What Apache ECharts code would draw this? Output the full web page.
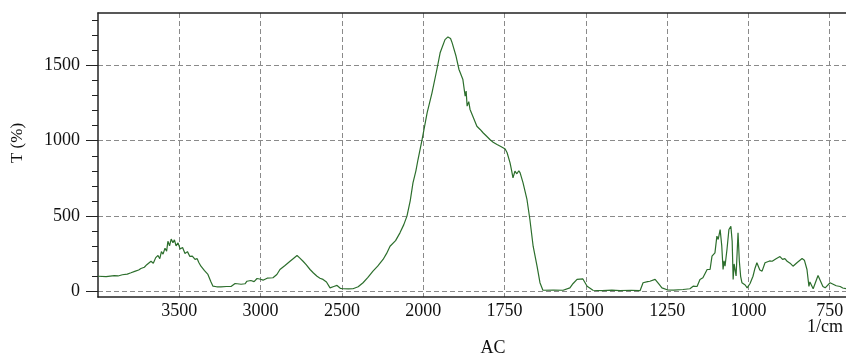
<!DOCTYPE html>
<html>
<head>
<meta charset="utf-8">
<script src="https://cdn.jsdelivr.net/npm/echarts@6/dist/echarts.min.js"></script>
<style>
  html, body { margin: 0; padding: 0; background: #fff; }
  #chart { width: 846px; height: 356px; }
</style>
</head>
<body>
<div id="chart"></div>
<script>
// wavenumber (1/cm) and transmittance
const waveNumbers = [
  4000, 3950, 3900, 3877, 3850, 3820, 3797, 3770, 3750, 3736, 3715, 3700, 3690, 3674, 3660, 3645,
  3631, 3620, 3610, 3600, 3588, 3578, 3570, 3560, 3550, 3539, 3530, 3520, 3508, 3495, 3480, 3465,
  3450, 3435, 3420, 3403, 3390, 3380, 3367, 3345, 3324, 3305, 3293, 3270, 3244, 3210, 3182, 3157,
  3145, 3120, 3096, 3084, 3060, 3040, 3022, 3000, 2985, 2960, 2924, 2900, 2881, 2850, 2819, 2800,
  2776, 2760, 2739, 2720, 2696, 2675, 2653, 2635, 2616, 2595, 2573, 2550, 2530, 2510, 2493, 2460,
  2432, 2400, 2370, 2340, 2309, 2280, 2247, 2225, 2204, 2170, 2143, 2120, 2100, 2080, 2063, 2045,
  2032, 2007, 1988, 1973, 1958, 1948, 1933, 1924, 1916, 1911, 1899, 1890, 1878, 1871, 1868, 1865,
  1860, 1856, 1845, 1835, 1825, 1816, 1805, 1795, 1785, 1773, 1760, 1755, 1748, 1742, 1733, 1728,
  1724, 1718, 1712, 1706, 1702, 1693, 1681, 1672, 1662, 1650, 1641, 1632, 1600, 1570, 1549, 1539,
  1527, 1509, 1496, 1478, 1450, 1420, 1395, 1360, 1333, 1324, 1310, 1303, 1287, 1275, 1266, 1250,
  1230, 1201, 1180, 1170, 1158, 1149, 1140, 1127, 1118, 1112, 1103, 1097, 1093, 1087, 1082, 1078,
  1075, 1072, 1066, 1060, 1054, 1050, 1047, 1044, 1038, 1032, 1028, 1024, 1020, 1010, 1004, 1001,
  995, 986, 980, 974, 965, 958, 949, 943, 935, 927, 915, 903, 895, 888, 881, 872,
  863, 850, 835, 828, 820, 814, 811, 801, 786, 780, 771, 764, 758, 749, 743, 730,
  718, 710, 700
];
const transmittance = [
  98, 96, 102, 100, 108, 112, 121, 132, 140, 150, 158, 175, 165, 198, 185, 222,
  236, 215, 262, 245, 285, 265, 331, 300, 345, 322, 340, 300, 320, 280, 290, 250,
  262, 230, 232, 210, 215, 190, 165, 135, 110, 60, 32, 28, 28, 30, 30, 50,
  55, 45, 48, 65, 70, 62, 83, 78, 72, 85, 88, 110, 143, 170, 198, 215,
  236, 220, 198, 175, 143, 120, 98, 85, 77, 60, 21, 30, 37, 18, 15, 14,
  15, 28, 55, 90, 132, 165, 210, 250, 298, 335, 387, 440, 498, 600, 720, 800,
  875, 1008, 1186, 1319, 1474, 1585, 1673, 1691, 1680, 1651, 1562, 1474, 1407, 1296, 1330, 1230,
  1260, 1208, 1150, 1096, 1075, 1053, 1030, 1008, 990, 975, 960, 953, 945, 920, 853, 800,
  753, 797, 780, 800, 786, 720, 609, 476, 298, 165, 55, 5, 6, 5, 21, 50,
  77, 80, 32, 5, 3, 6, 2, 5, 3, 55, 62, 65, 77, 45, 21, 8,
  6, 10, 15, 32, 30, 77, 88, 143, 143, 232, 254, 365, 343, 409, 300, 143,
  200, 165, 276, 409, 431, 330, 77, 180, 100, 387, 200, 98, 55, 40, 21, 10,
  50, 98, 150, 188, 140, 132, 188, 180, 200, 198, 215, 229, 210, 215, 198, 185,
  165, 190, 216, 205, 143, 30, 60, 15, 103, 98, 30, 21, 15, 55, 55, 35,
  30, 20, 15
];
const xTickLabels = [3500, 3000, 2500, 2000, 1750, 1500, 1250, 1000, 750];
const yTickLabels = [0, 500, 1000, 1500];
const yMinorTicks = [0, 100, 200, 300, 400, 500, 600, 700, 800, 900, 1000, 1100, 1200, 1300, 1400, 1500, 1600, 1700, 1800];

// the instrument plots above 2000 1/cm at half the scale
const toAxis = w => (w > 2000 ? 2000 + (w - 2000) / 2 : w);
const fromAxis = t => (t > 2000 ? 2000 + (t - 2000) * 2 : t);

const serif = "'Liberation Serif', 'Times New Roman', serif";
const gridLine = { show: true, lineStyle: { color: '#8a8a8a', type: [5, 3], width: 1 } };

const chart = echarts.init(document.getElementById('chart'));
chart.setOption({
  backgroundColor: '#fff',
  animation: false,
  grid: { left: 98, right: 0, top: 13, bottom: 59, outerBoundsMode: 'none', containLabel: false },
  xAxis: [
    {
      type: 'value',
      inverse: true,
      min: toAxis(700),
      max: toAxis(4000),
      axisLine: { show: true, onZero: false, lineStyle: { color: '#222', width: 1.5 } },
      axisTick: { show: false, customValues: xTickLabels.map(toAxis) },
      axisLabel: {
        customValues: xTickLabels.map(toAxis),
        formatter: v => String(Math.round(fromAxis(v))),
        margin: 5,
        color: '#111',
        fontFamily: serif,
        fontSize: 18
      },
      splitLine: gridLine
    },
    {
      type: 'value',
      position: 'top',
      inverse: true,
      min: toAxis(700),
      max: toAxis(4000),
      axisLine: { show: true, onZero: false, lineStyle: { color: '#222', width: 1.5 } },
      axisTick: { show: false },
      axisLabel: { show: false },
      splitLine: { show: false }
    }
  ],
  yAxis: [
    {
      type: 'value',
      min: -40,
      max: 1850,
      axisLine: { show: true, onZero: false, lineStyle: { color: '#222', width: 1.5 } },
      axisTick: { show: true, customValues: yTickLabels, length: 12, lineStyle: { color: '#222' } },
      axisLabel: {
        customValues: yTickLabels,
        formatter: v => String(v),
        margin: 18,
        padding: [0, 0, 10, 0],
        color: '#111',
        fontFamily: serif,
        fontSize: 18
      },
      splitLine: gridLine
    },
    {
      type: 'value',
      position: 'left',
      min: -40,
      max: 1850,
      axisLine: { show: false },
      axisTick: { show: true, customValues: yMinorTicks, length: 6, lineStyle: { color: '#222' } },
      axisLabel: { show: false },
      splitLine: { show: false }
    }
  ],
  graphic: [
    {
      type: 'text', x: 18, y: 143, rotation: Math.PI / 2,
      style: { text: 'T (%)', font: '17px ' + serif, fill: '#111', align: 'center', verticalAlign: 'middle' }
    },
    {
      type: 'text', x: 807, y: 327,
      style: { text: '1/cm', font: '18px ' + serif, fill: '#111', align: 'left', verticalAlign: 'middle' }
    },
    {
      type: 'text', x: 493, y: 348,
      style: { text: 'AC', font: '18px ' + serif, fill: '#111', align: 'center', verticalAlign: 'middle' }
    }
  ],
  series: [
    {
      type: 'line',
      xAxisIndex: 0,
      yAxisIndex: 0,
      showSymbol: false,
      data: waveNumbers.map((w, i) => [toAxis(w), transmittance[i]]),
      lineStyle: { color: '#2c6e2c', width: 1.2 }
    }
  ]
});
</script>
</body>
</html>
